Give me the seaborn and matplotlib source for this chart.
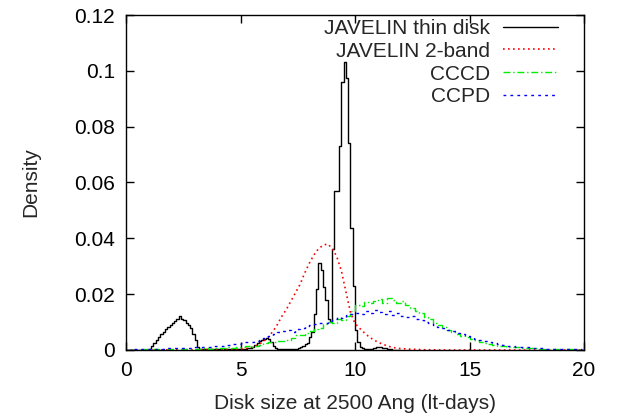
"""
Posterior density of the disk size for the JAVELIN, CCCD and CCPD fits.
"""
import numpy as np
import pandas as pd
import matplotlib
matplotlib.use("Agg")
import matplotlib.pyplot as plt
import seaborn as sns

# JAVELIN thin disk: histogram, bins of 0.1 lt-days starting at 0
thin_bin_start = 0.0
thin_bin_width = 0.1
thin_density = [
    0, 0, 0, 0, 0, 0, 0, 0, 0, 0.0001,
    0.0003, 0.0015, 0.0025, 0.0035, 0.0045, 0.0058, 0.0066, 0.0075, 0.0082, 0.0090,
    0.0098, 0.0104, 0.0110, 0.0120, 0.0112, 0.0108, 0.0098, 0.0090, 0.0078, 0.0058,
    0.0035, 0.0012, 0.0004, 0.0002, 0.0002, 0.0002, 0.0002, 0.0002, 0.0002, 0.0002,
    0.0002, 0.0002, 0.0001, 0.0002, 0.0002, 0.0002, 0.0003, 0.0003, 0.0003, 0.0004,
    0.0004, 0.0004, 0.0005, 0.0006, 0.0008, 0.0012, 0.0018, 0.0025, 0.0032, 0.0036,
    0.0040, 0.0043, 0.0038, 0.0028, 0.0016, 0.0008, 0.0005, 0.0004, 0.0003, 0.0003,
    0.0003, 0.0003, 0.0003, 0.0004, 0.0005, 0.0008, 0.0012, 0.0016, 0.0020, 0.0026,
    0.0047, 0.0065, 0.0130, 0.0220, 0.0310, 0.0287, 0.0226, 0.0180, 0.0110, 0.0100,
    0.0360, 0.0570, 0.0570, 0.0730, 0.0960, 0.1030, 0.0975, 0.0740, 0.0437, 0.0230,
    0.0070, 0.0030, 0.0012, 0.0006, 0.0004, 0.0003, 0.0004, 0.0005, 0.0008, 0.0009,
    0.0010, 0.0009, 0.0008, 0.0006, 0.0004, 0.0002, 0.0001, 0.0001, 0.0001, 0.0001,
]

# JAVELIN 2-band: smooth curve sampled along the size axis
twoband_x = [
    0.0, 1.0, 2.0, 3.0, 4.0, 4.6, 5.0, 5.2, 5.4, 5.6, 5.8, 6.0, 6.2, 6.4, 6.6,
    6.8, 7.0, 7.2, 7.4, 7.6, 7.8, 8.0, 8.2, 8.4, 8.6, 8.8, 9.0, 9.2, 9.4,
    9.6, 9.8, 10.0, 10.2, 10.4, 10.6, 10.8, 11.0, 11.2, 11.4, 11.6, 11.8,
    12.0, 12.4, 13.0, 14.0, 16.0, 20.0,
]
twoband_density = [
    0.0, 0.0, 0.0001, 0.0001, 0.0002, 0.0002, 0.0003, 0.0005, 0.0008, 0.0012, 0.0020,
    0.0030, 0.0045, 0.0065, 0.0090, 0.0120, 0.0145, 0.0175, 0.0205, 0.0235,
    0.0275, 0.0310, 0.0340, 0.0362, 0.0375, 0.0380, 0.0365, 0.0335, 0.0285,
    0.0210, 0.0135, 0.0095, 0.0078, 0.0062, 0.0048, 0.0037, 0.0028, 0.0021,
    0.0015, 0.0010, 0.0007, 0.0005, 0.0003, 0.0001, 0.0, 0.0, 0.0,
]

# CCCD and CCPD: histograms, bins of 0.2 lt-days starting at 0
cc_bin_start = 0.0
cc_bin_width = 0.2
cccd_density = [
    0.0001, 0.0001, 0.0001, 0.0001, 0.0002, 0.0001, 0.0002, 0.0002, 0.0003, 0.0002,
    0.0003, 0.0003, 0.0004, 0.0003, 0.0004, 0.0005, 0.0004, 0.0006, 0.0005, 0.0007,
    0.0006, 0.0008, 0.0009, 0.0008, 0.0010, 0.0011, 0.0013, 0.0012, 0.0015, 0.0018,
    0.0024, 0.0030, 0.0027, 0.0033, 0.0031, 0.0036, 0.0042, 0.0055, 0.0052, 0.0062,
    0.0068, 0.0075, 0.0080, 0.0092, 0.0100, 0.0098, 0.0112, 0.0108, 0.0122, 0.0140,
    0.0162, 0.0158, 0.0172, 0.0168, 0.0176, 0.0182, 0.0170, 0.0186, 0.0178, 0.0168,
    0.0174, 0.0160, 0.0152, 0.0140, 0.0132, 0.0118, 0.0110, 0.0098, 0.0090, 0.0082,
    0.0072, 0.0066, 0.0058, 0.0050, 0.0046, 0.0040, 0.0034, 0.0030, 0.0026, 0.0022,
    0.0019, 0.0016, 0.0014, 0.0012, 0.0011, 0.0009, 0.0008, 0.0007, 0.0006, 0.0006,
    0.0005, 0.0004, 0.0004, 0.0003, 0.0003, 0.0003, 0.0002, 0.0002, 0.0002, 0.0001,
]
ccpd_density = [
    0.0001, 0.0002, 0.0002, 0.0003, 0.0003, 0.0004, 0.0004, 0.0005, 0.0005, 0.0006,
    0.0006, 0.0007, 0.0007, 0.0008, 0.0008, 0.0009, 0.0010, 0.0011, 0.0012, 0.0013,
    0.0015, 0.0016, 0.0018, 0.0020, 0.0022, 0.0024, 0.0027, 0.0030, 0.0032, 0.0038,
    0.0042, 0.0050, 0.0058, 0.0064, 0.0068, 0.0070, 0.0066, 0.0074, 0.0080, 0.0086,
    0.0090, 0.0092, 0.0096, 0.0098, 0.0104, 0.0112, 0.0118, 0.0116, 0.0124, 0.0128,
    0.0132, 0.0130, 0.0138, 0.0134, 0.0142, 0.0136, 0.0130, 0.0138, 0.0126, 0.0132,
    0.0122, 0.0118, 0.0120, 0.0112, 0.0106, 0.0102, 0.0096, 0.0090, 0.0084, 0.0080,
    0.0072, 0.0068, 0.0062, 0.0056, 0.0050, 0.0046, 0.0040, 0.0036, 0.0031, 0.0028,
    0.0024, 0.0020, 0.0018, 0.0016, 0.0014, 0.0012, 0.0010, 0.0009, 0.0008, 0.0007,
    0.0006, 0.0005, 0.0005, 0.0004, 0.0004, 0.0003, 0.0003, 0.0002, 0.0002, 0.0002,
]

x_ticks = [0, 5, 10, 15, 20]
y_ticks = [0, 0.02, 0.04, 0.06, 0.08, 0.1, 0.12]
y_tick_labels = ["0", "0.02", "0.04", "0.06", "0.08", "0.1", "0.12"]


def bin_centers(start, width, n):
    return start + width * (np.arange(n) + 0.5)


def main():
    sns.set_theme(style="ticks")
    plt.rcParams["font.family"] = ["Liberation Sans", "DejaVu Sans"]
    fs = 15

    fig = plt.figure(figsize=(6.22, 4.19), dpi=100)
    ax = fig.add_axes([0.2026, 0.1647, 0.7363, 0.7995])

    thin_df = pd.DataFrame({
        "size": bin_centers(thin_bin_start, thin_bin_width, len(thin_density)),
        "density": thin_density,
    })
    cccd_df = pd.DataFrame({
        "size": bin_centers(cc_bin_start, cc_bin_width, len(cccd_density)),
        "density": cccd_density,
    })
    ccpd_df = pd.DataFrame({
        "size": bin_centers(cc_bin_start, cc_bin_width, len(ccpd_density)),
        "density": ccpd_density,
    })
    twoband_df = pd.DataFrame({"size": twoband_x, "density": twoband_density})

    sns.lineplot(data=thin_df, x="size", y="density", ax=ax, color="black",
                 lw=1.0, drawstyle="steps-mid", label="JAVELIN thin disk")
    sns.lineplot(data=twoband_df, x="size", y="density", ax=ax, color="#ff0000",
                 lw=1.2, linestyle=(0, (1, 2)), label="JAVELIN 2-band")
    sns.lineplot(data=cccd_df, x="size", y="density", ax=ax, color="#00ee00",
                 lw=1.0, drawstyle="steps-mid", linestyle=(0, (5, 2, 1, 2)),
                 label="CCCD")
    sns.lineplot(data=ccpd_df, x="size", y="density", ax=ax, color="#0000ff",
                 lw=1.0, drawstyle="steps-mid", linestyle=(0, (2, 3)),
                 label="CCPD")

    ax.set_xlim(0, 20)
    ax.set_ylim(0, 0.12)
    ax.set_xticks(x_ticks)
    ax.set_xticklabels([str(t) for t in x_ticks])
    ax.set_yticks(y_ticks)
    ax.set_yticklabels(y_tick_labels)
    ax.tick_params(direction="in", length=6, width=1, top=True, right=True,
                   labelsize=fs, colors="black", pad=8)
    for spine in ax.spines.values():
        spine.set_visible(True)
        spine.set_color("black")
        spine.set_linewidth(1.0)

    ax.set_xlabel("Disk size at 2500 Ang (lt-days)", fontsize=fs, labelpad=10)
    ax.set_ylabel("Density", fontsize=fs, labelpad=24)

    leg = ax.legend(loc="upper right",
                    bbox_to_anchor=(1 - 26 / 458, 1 - 4 / 335),
                    frameon=False, markerfirst=False, fontsize=fs,
                    handlelength=2.65, handletextpad=0.62, labelspacing=0.18,
                    borderaxespad=0.0, borderpad=0.0)
    leg._legend_box.align = "right"

    fig.savefig("out.png", dpi=100)


if __name__ == "__main__":
    main()
